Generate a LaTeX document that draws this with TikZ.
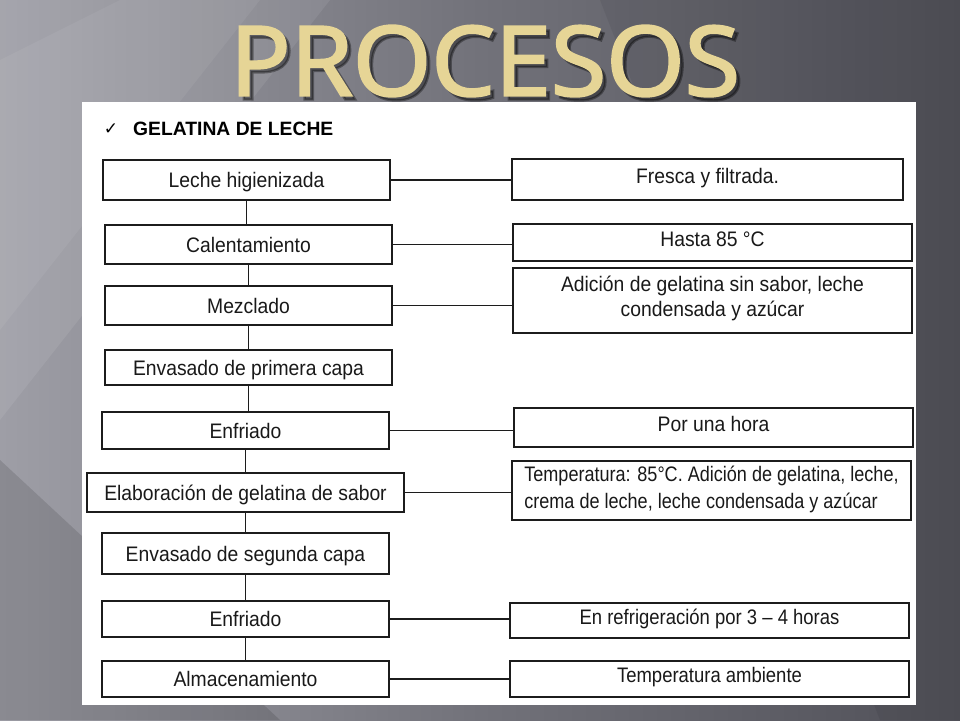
\documentclass[tikz,border=0pt]{standalone}
\usepackage{fontspec}
\setmainfont{Liberation Sans}
\newfontfamily\boxfont[FakeStretch=0.92]{Liberation Sans}
\newfontfamily\boxfontn[FakeStretch=0.86]{Liberation Sans}
\newfontfamily\boxfontm[FakeStretch=0.88]{Liberation Sans}
\newfontfamily\dejavu{DejaVu Sans}
\newfontfamily\titlefont[FakeBold=2.5]{Open Sans}
\usetikzlibrary{calc}
\definecolor{bgleft}{RGB}{158,158,166}
\definecolor{bgmid}{RGB}{114,114,122}
\definecolor{bgright}{RGB}{80,80,88}
\definecolor{titlegold}{RGB}{230,213,150}
\definecolor{boxline}{RGB}{28,28,28}
\tikzset{
  stepbox/.style={draw=boxline, line width=1.4pt, fill=white, inner sep=0pt,
    align=center, font=\boxfont\fontsize{21}{25}\selectfont, text=black!90,
    text height=15.5pt, text depth=0.5pt},
  notebox/.style={stepbox, text height=9pt, text depth=2pt},
  notebox2/.style={draw=boxline, line width=1.4pt, fill=white, inner sep=0pt,
    align=center, font=\boxfont\fontsize{21}{25}\selectfont, text=black!90},
  link/.style={draw=boxline, line width=1.4pt}
}
\begin{document}
\begin{tikzpicture}[x=1pt,y=-1pt]
\useasboundingbox (0,0) rectangle (960,720);
% background
\shade[left color=bgleft, right color=bgright, middle color=bgmid] (0,0) rectangle (960,720);
\fill[white, opacity=0.08] (0,0) -- (330,0) -- (0,420) -- cycle;
\fill[white, opacity=0.06] (0,60) -- (120,0) -- (260,0) -- (0,330) -- cycle;
\fill[black, opacity=0.12] (0,460) -- (280,720) -- (0,720) -- cycle;
\fill[black, opacity=0.06] (600,0) -- (960,0) -- (960,720) -- (880,720) -- cycle;
% title
\node[inner sep=0pt, text=black, opacity=0.35] (titleshadow) at (489,65) {\resizebox{510pt}{70pt}{\titlefont\fontsize{95}{95}\selectfont PROCESOS}};
\node[inner sep=0pt, text=titlegold] (title) at (485,61) {\resizebox{510pt}{70pt}{\titlefont\fontsize{95}{95}\selectfont PROCESOS}};
% panel
\fill[white] (82,102) rectangle (916,705);
% heading
\node[inner sep=0pt, font=\dejavu\fontsize{17}{17}\selectfont] (check) at (111,129) {✓};
\node[inner sep=0pt, anchor=west, font=\bfseries\fontsize{19.3}{22}\selectfont] (head) at (133,128.5) {GELATINA DE LECHE};
% left column
\node[stepbox, minimum width=287pt, minimum height=40pt] (l1) at (246.5,180) {Leche higienizada};
\node[stepbox, minimum width=287pt, minimum height=39pt] (l2) at (248.5,244.5) {Calentamiento};
\node[stepbox, minimum width=287pt, minimum height=39pt] (l3) at (248.5,305.5) {Mezclado};
\node[stepbox, minimum width=287pt, minimum height=35pt] (l4) at (248.5,367.5) {Envasado de primera capa};
\node[stepbox, minimum width=287pt, minimum height=37pt] (l5) at (245.5,430.5) {Enfriado};
\node[stepbox, minimum width=317pt, minimum height=39pt] (l6) at (245.5,492.5) {Elaboración de gelatina de sabor};
\node[stepbox, minimum width=287pt, minimum height=41pt] (l7) at (245.5,553.5) {Envasado de segunda capa};
\node[stepbox, minimum width=287pt, minimum height=36pt] (l8) at (245.5,619) {Enfriado};
\node[stepbox, minimum width=287pt, minimum height=36pt] (l9) at (245.5,679) {Almacenamiento};
% right column
\node[notebox, minimum width=391pt, minimum height=41pt] (r1) at (707.5,179.5) {Fresca y filtrada.};
\node[notebox, minimum width=399pt, minimum height=37pt] (r2) at (712.5,242.5) {Hasta 85 °C};
\node[notebox2, minimum width=399pt, minimum height=65pt] (r3) at (712.5,300.5) {Adición de gelatina sin sabor, leche\\condensada y azúcar\rule[-9pt]{0pt}{1pt}};
\node[notebox, minimum width=399pt, minimum height=39pt] (r4) at (713.5,427.5) {Por una hora};
\node[notebox2, align=left, minimum width=399pt, minimum height=59pt, font=\boxfontn\fontsize{21}{27}\selectfont] (r5) at (711.5,490.5) {Temperatura: 85°C. Adición de gelatina, leche,\\crema de leche, leche condensada y azúcar\rule[-7pt]{0pt}{1pt}};
\node[notebox, minimum width=399pt, minimum height=35pt, font=\boxfontm\fontsize{21}{25}\selectfont] (r6) at (709.5,620.5) {En refrigeración por 3 – 4 horas};
\node[notebox, minimum width=399pt, minimum height=36pt, font=\boxfontm\fontsize{21}{25}\selectfont] (r7) at (709.5,679) {Temperatura ambiente};
% vertical connectors
\foreach \a/\b in {l1/l2,l2/l3,l3/l4,l4/l5,l5/l6,l6/l7,l7/l8,l8/l9}
  \draw[link] (\a.south) -- (\a.south |- \b.north);
% horizontal connectors
\foreach \a/\b in {l1/r1,l2/r2,l3/r3,l5/r4,l6/r5,l8/r6,l9/r7}
  \draw[link] (\a.east) -- (\a.east -| \b.west);
\end{tikzpicture}
\end{document}
